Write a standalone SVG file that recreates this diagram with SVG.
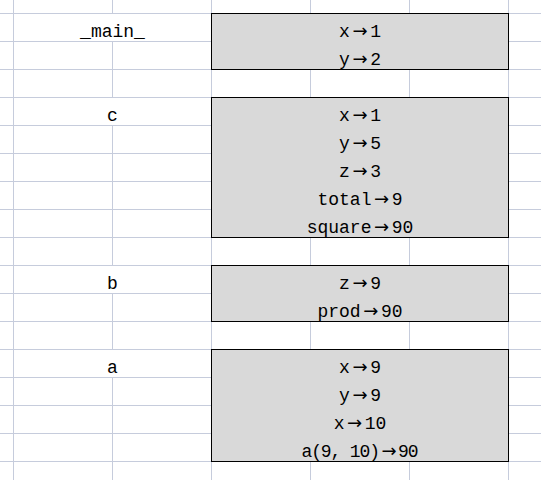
<svg xmlns="http://www.w3.org/2000/svg" width="541" height="480" viewBox="0 0 541 480">
<style>
.g line{stroke:#c6ccdc;stroke-width:1}
.box{fill:#d9d9d9;stroke:#000;stroke-width:1}
text{font-family:"Liberation Mono","DejaVu Sans Mono",monospace;font-size:18px;fill:#000;text-anchor:middle}
.ar{font-family:"DejaVu Sans",sans-serif;font-size:18px}
</style>
<rect width="541" height="480" fill="#fff"/>
<g class="g" id="grid">
<line x1="0" y1="13.5" x2="541" y2="13.5"/>
<line x1="0" y1="41.5" x2="541" y2="41.5"/>
<line x1="0" y1="69.5" x2="541" y2="69.5"/>
<line x1="0" y1="97.5" x2="541" y2="97.5"/>
<line x1="0" y1="125.5" x2="541" y2="125.5"/>
<line x1="0" y1="153.5" x2="541" y2="153.5"/>
<line x1="0" y1="181.5" x2="541" y2="181.5"/>
<line x1="0" y1="209.5" x2="541" y2="209.5"/>
<line x1="0" y1="237.5" x2="541" y2="237.5"/>
<line x1="0" y1="265.5" x2="541" y2="265.5"/>
<line x1="0" y1="293.5" x2="541" y2="293.5"/>
<line x1="0" y1="321.5" x2="541" y2="321.5"/>
<line x1="0" y1="349.5" x2="541" y2="349.5"/>
<line x1="0" y1="377.5" x2="541" y2="377.5"/>
<line x1="0" y1="405.5" x2="541" y2="405.5"/>
<line x1="0" y1="433.5" x2="541" y2="433.5"/>
<line x1="0" y1="461.5" x2="541" y2="461.5"/>
<line x1="13.5" y1="0" x2="13.5" y2="480"/>
<line x1="112.5" y1="0" x2="112.5" y2="13.5"/>
<line x1="112.5" y1="41.5" x2="112.5" y2="97.5"/>
<line x1="112.5" y1="125.5" x2="112.5" y2="265.5"/>
<line x1="112.5" y1="293.5" x2="112.5" y2="349.5"/>
<line x1="112.5" y1="377.5" x2="112.5" y2="480"/>
<line x1="211.5" y1="0" x2="211.5" y2="480"/>
<line x1="310.5" y1="0" x2="310.5" y2="480"/>
<line x1="409.5" y1="0" x2="409.5" y2="480"/>
<line x1="508.5" y1="0" x2="508.5" y2="480"/>
</g>
<g id="label-main"><text x="112.5" y="36.5">_main_</text></g>
<g id="label-c"><text x="112.5" y="120.5">c</text></g>
<g id="label-b"><text x="112.5" y="288.5">b</text></g>
<g id="label-a"><text x="112.5" y="372.5">a</text></g>
<g id="frame-main">
<rect class="box" x="211.5" y="13.5" width="297" height="56"/>
<text x="360" y="36.5">x<tspan class="ar" dx="2.6">→</tspan><tspan dx="2.6">1</tspan></text>
<text x="360" y="64.5">y<tspan class="ar" dx="2.6">→</tspan><tspan dx="2.6">2</tspan></text>
</g>
<g id="frame-c">
<rect class="box" x="211.5" y="97.5" width="297" height="140"/>
<text x="360" y="120.5">x<tspan class="ar" dx="2.6">→</tspan><tspan dx="2.6">1</tspan></text>
<text x="360" y="148.5">y<tspan class="ar" dx="2.6">→</tspan><tspan dx="2.6">5</tspan></text>
<text x="360" y="176.5">z<tspan class="ar" dx="2.6">→</tspan><tspan dx="2.6">3</tspan></text>
<text x="360" y="204.5">total<tspan class="ar" dx="2.6">→</tspan><tspan dx="2.6">9</tspan></text>
<text x="360" y="232.5">square<tspan class="ar" dx="2.6">→</tspan><tspan dx="2.6">90</tspan></text>
</g>
<g id="frame-b">
<rect class="box" x="211.5" y="265.5" width="297" height="56"/>
<text x="360" y="288.5">z<tspan class="ar" dx="2.6">→</tspan><tspan dx="2.6">9</tspan></text>
<text x="360" y="316.5">prod<tspan class="ar" dx="2.6">→</tspan><tspan dx="2.6">90</tspan></text>
</g>
<g id="frame-a">
<rect class="box" x="211.5" y="349.5" width="297" height="112"/>
<text x="360" y="372.5">x<tspan class="ar" dx="2.6">→</tspan><tspan dx="2.6">9</tspan></text>
<text x="360" y="400.5">y<tspan class="ar" dx="2.6">→</tspan><tspan dx="2.6">9</tspan></text>
<text x="360" y="428.5">x<tspan class="ar" dx="2.6">→</tspan><tspan dx="2.6">10</tspan></text>
<text x="360" y="456.5" textLength="117" lengthAdjust="spacing">a(9, 10)<tspan class="ar" dx="2.6">→</tspan><tspan dx="2.6">90</tspan></text>
</g>
</svg>
